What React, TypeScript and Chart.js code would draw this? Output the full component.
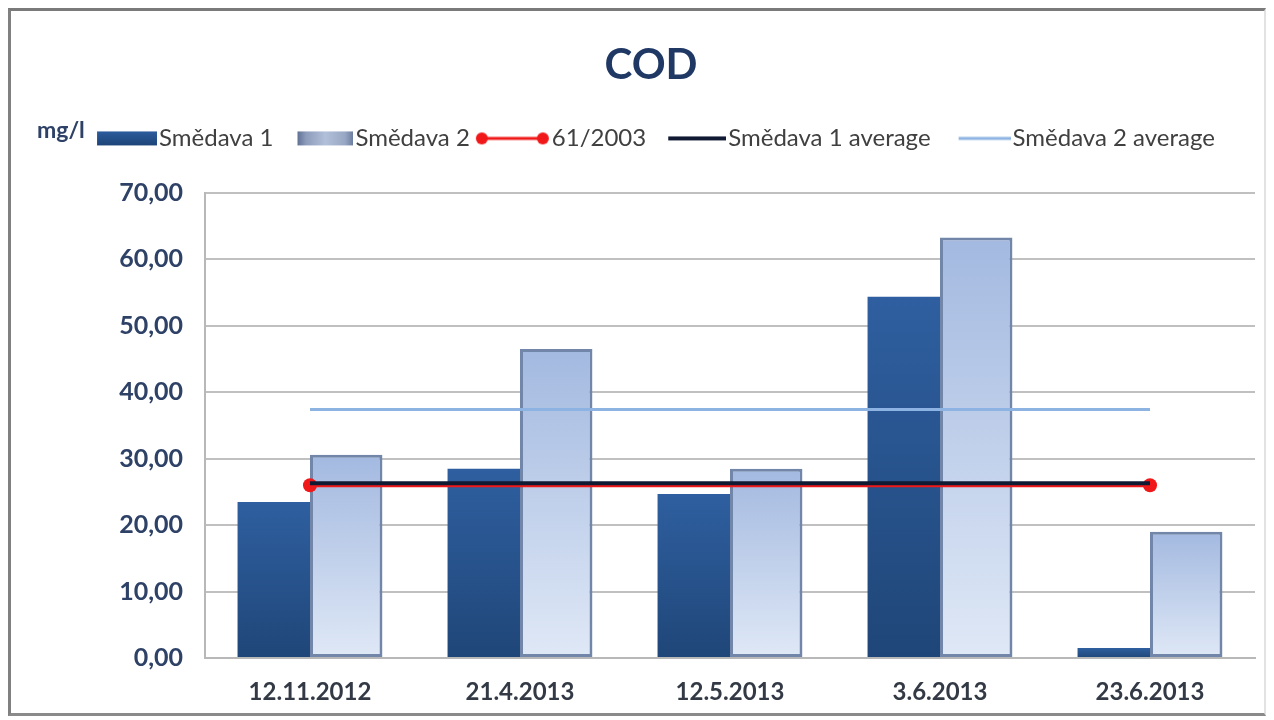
import React, { useEffect, useRef } from 'react';
import { Chart, registerables } from 'chart.js';

Chart.register(...registerables);

const categories = ['12.11.2012', '21.4.2013', '12.5.2013', '3.6.2013', '23.6.2013'];
const smedava1 = [23.5, 28.5, 24.7, 54.4, 1.5];
const smedava2 = [30.6, 46.5, 28.5, 63.3, 19.0];
const limit61 = [26.0, 26.0, 26.0, 26.0, 26.0];
const smedava1Avg = [26.3, 26.3, 26.3, 26.3, 26.3];
const smedava2Avg = [37.4, 37.4, 37.4, 37.4, 37.4];
const seriesLabels = ['Smědava 1', 'Smědava 2', '61/2003', 'Smědava 1 average', 'Smědava 2 average'];
const yMin = 0;
const yMax = 70;
const yStep = 10;

const FONT = 'Lato, "Open Sans", sans-serif';

function makeImg(draw: (ctx: CanvasRenderingContext2D) => void) {
  const c = document.createElement('canvas');
  c.width = 80;
  c.height = 20;
  const ctx = c.getContext('2d')!;
  draw(ctx);
  return c;
}

function legendImages() {
  const s1 = makeImg((ctx) => {
    const g = ctx.createLinearGradient(0, 3, 0, 17);
    g.addColorStop(0, '#2d5d9d');
    g.addColorStop(1, '#1d4578');
    ctx.fillStyle = g;
    ctx.fillRect(20, 3, 60, 14);
  });
  const s2 = makeImg((ctx) => {
    const g = ctx.createLinearGradient(24, 0, 80, 0);
    g.addColorStop(0, '#5f7196');
    g.addColorStop(0.15, '#8d9cbb');
    g.addColorStop(0.5, '#b3c0da');
    g.addColorStop(0.85, '#98a7c4');
    g.addColorStop(1, '#6a7b9e');
    ctx.fillStyle = g;
    ctx.fillRect(24, 3, 56, 14);
  });
  const red = makeImg((ctx) => {
    ctx.strokeStyle = '#f01818';
    ctx.lineWidth = 3;
    ctx.beginPath();
    ctx.moveTo(12, 10);
    ctx.lineTo(73, 10);
    ctx.stroke();
    ctx.fillStyle = '#f01818';
    ctx.beginPath();
    ctx.arc(12, 10, 6, 0, Math.PI * 2);
    ctx.fill();
    ctx.beginPath();
    ctx.arc(73, 10, 6, 0, Math.PI * 2);
    ctx.fill();
  });
  const a1 = makeImg((ctx) => {
    ctx.strokeStyle = '#111a33';
    ctx.lineWidth = 4;
    ctx.beginPath();
    ctx.moveTo(22, 10);
    ctx.lineTo(80, 10);
    ctx.stroke();
  });
  const a2 = makeImg((ctx) => {
    ctx.strokeStyle = '#8db3e2';
    ctx.lineWidth = 3;
    ctx.beginPath();
    ctx.moveTo(28, 10);
    ctx.lineTo(80, 10);
    ctx.stroke();
  });
  return [s1, s2, red, a1, a2];
}

function barGradient(top: string, bottom: string, fallback: string) {
  return (c: any) => {
    const chart = c.chart;
    if (!chart.chartArea || c.type !== 'data' || c.raw == null) return fallback;
    const y = chart.scales.y;
    const y0 = y.getPixelForValue(c.raw);
    const y1 = y.getPixelForValue(0);
    const g = chart.ctx.createLinearGradient(0, y0, 0, Math.max(y1, y0 + 1));
    g.addColorStop(0, top);
    g.addColorStop(1, bottom);
    return g;
  };
}

const legendSpacer = {
  id: 'legendSpacer',
  beforeInit(chart: any) {
    const legend = chart.legend;
    if (!legend) return;
    const orig = legend.fit;
    legend.fit = function () {
      orig.call(this);
      this.height += 32.6;
    };
  },
};

const unitLabel = {
  id: 'unitLabel',
  beforeDraw(chart: any) {
    const ctx = chart.ctx;
    ctx.save();
    ctx.font = `bold 23px ${FONT}`;
    ctx.fillStyle = '#2e4166';
    ctx.textAlign = 'left';
    ctx.textBaseline = 'middle';
    ctx.fillText('mg/l', 26, 120);
    ctx.restore();
  },
};

export default function App() {
  const ref = useRef<HTMLCanvasElement | null>(null);

  useEffect(() => {
    if (!ref.current) return;
    const imgs = legendImages();
    const chart = new Chart(ref.current, {
      type: 'bar',
      data: {
        labels: categories,
        datasets: [
          {
            type: 'bar',
            label: seriesLabels[0],
            data: smedava1,
            backgroundColor: barGradient('#2f5fa0', '#1f4678', '#27528b'),
            borderWidth: 0,
            barPercentage: 1,
            categoryPercentage: 0.69,
            order: 5,
          },
          {
            type: 'bar',
            label: seriesLabels[1],
            data: smedava2,
            backgroundColor: barGradient('#a3b9e0', '#dfe8f6', '#bccbe8'),
            borderColor: '#7186a8',
            borderWidth: 3,
            borderSkipped: false,
            barPercentage: 1,
            categoryPercentage: 0.69,
            order: 6,
          },
          {
            type: 'line',
            label: seriesLabels[2],
            data: limit61,
            borderColor: '#f01818',
            backgroundColor: '#f01818',
            borderWidth: 4,
            pointRadius: [7, 0, 0, 0, 7],
            pointBackgroundColor: '#f01818',
            pointBorderWidth: 0,
            tension: 0,
            order: 1,
          },
          {
            type: 'line',
            label: seriesLabels[3],
            data: smedava1Avg,
            borderColor: '#111a33',
            borderWidth: 4,
            pointRadius: 0,
            tension: 0,
            order: 0,
          },
          {
            type: 'line',
            label: seriesLabels[4],
            data: smedava2Avg,
            borderColor: '#8db3e2',
            borderWidth: 3,
            pointRadius: 0,
            tension: 0,
            order: 2,
          },
        ] as any,
      },
      options: {
        animation: false,
        responsive: false,
        maintainAspectRatio: false,
        layout: { padding: { left: 36, right: 9, top: 0, bottom: 6 } },
        plugins: {
          title: {
            display: true,
            text: 'COD',
            color: '#1f3864',
            font: { family: FONT, size: 42, weight: 'bold', lineHeight: 1.2 },
            padding: { top: 29, bottom: 26 },
          },
          legend: {
            display: true,
            position: 'top',
            labels: {
              usePointStyle: true,
              pointStyleWidth: 60,
              boxHeight: 20,
              padding: 10,
              color: '#404040',
              font: { family: FONT, size: 24 },
              generateLabels: (ch: any) =>
                ch.data.datasets.map((ds: any, i: number) => ({
                  text: ds.label,
                  pointStyle: imgs[i],
                  fillStyle: 'transparent',
                  strokeStyle: 'transparent',
                  lineWidth: 0,
                  hidden: false,
                  datasetIndex: i,
                  fontColor: '#404040',
                })),
            },
          },
          tooltip: { enabled: false },
        },
        scales: {
          x: {
            afterFit: (scale: any) => {
              scale.height = 49;
            },
            grid: { display: false, drawTicks: false },
            border: { display: true, color: '#b8b8b8', width: 2 },
            ticks: {
              padding: 20,
              color: '#333a45',
              font: { family: FONT, size: 24, weight: 'bold' },
            },
          },
          y: {
            min: yMin,
            max: yMax,
            afterFit: (scale: any) => {
              scale.width = 158;
            },
            grid: { color: '#c0c0c0', lineWidth: 2, drawTicks: false },
            border: { display: true, color: '#b8b8b8', width: 2 },
            ticks: {
              stepSize: yStep,
              padding: 22,
              color: '#2e4166',
              font: { family: FONT, size: 25, weight: 'bold' },
              callback: (v: any) => Number(v).toFixed(2).replace('.', ','),
            },
          },
        },
      },
      plugins: [legendSpacer, unitLabel],
    });
    return () => chart.destroy();
  }, []);

  return (
    <div
      style={{
        width: 1258,
        height: 708,
        boxSizing: 'border-box',
        borderTop: '3px solid #7a7a7a',
        borderLeft: '3px solid #808080',
        borderBottom: '3px solid #8a8a8a',
        borderRight: '2px solid #e2e2e2',
        background: '#ffffff',
      }}
    >
      <canvas ref={ref} width={1253} height={702} style={{ display: 'block', width: 1253, height: 702 }} />
    </div>
  );
}
